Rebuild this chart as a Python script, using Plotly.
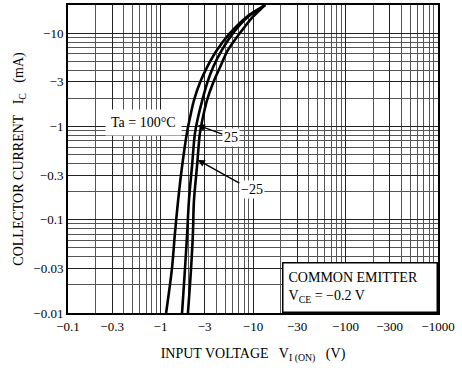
import plotly.graph_objects as go

# Collector current magnitude (mA) and input voltage magnitude (V) for each temperature
ic = [0.01, 0.03, 0.07, 0.16, 0.37, 0.85, 1.26, 1.9, 2.92, 4.3, 6.6, 10, 15, 19, 20]
v_100 = [1.15, 1.33, 1.43, 1.55, 1.71, 1.93, 2.09, 2.30, 2.66, 3.18, 4.08, 5.64, 8.61, 12.5, 13.5]
v_25 = [1.71, 1.84, 1.94, 2.03, 2.19, 2.36, 2.55, 2.83, 3.20, 3.70, 4.62, 6.08, 8.83, 12.5, 13.5]
v_m25 = [1.98, 2.14, 2.24, 2.30, 2.48, 2.67, 2.88, 3.18, 3.70, 4.40, 5.37, 7.23, 10.0, 12.8, 13.5]

x_tickvals = [0.1, 0.3, 1, 3, 10, 30, 100, 300, 1000]
x_ticktext = ["−0.1", "−0.3", "−1", "−3", "−10", "−30", "−100", "−300", "−1000"]
y_tickvals = [0.01, 0.03, 0.1, 0.3, 1, 3, 10]
y_ticktext = ["−0.01", "−0.03", "−0.1", "−0.3", "−1", "−3", "−10"]

x_minor = [m * 10 ** e for e in range(-1, 3) for m in range(1, 10)] + [1000]
y_minor = [m * 10 ** e for e in range(-2, 2) for m in range(1, 10)]
y_minor = [v for v in y_minor if v <= 20]

FONT = "Liberation Serif"

fig = go.Figure()
for v in (v_100, v_25, v_m25):
    fig.add_trace(go.Scatter(x=v, y=ic, mode="lines",
                             line=dict(color="black", width=2.6, shape="spline",
                                       smoothing=1.0),
                             showlegend=False, hoverinfo="skip"))

axis_common = dict(
    type="log", showline=True, mirror=True, linecolor="black", linewidth=2,
    ticks="", showgrid=True, gridcolor="#222", gridwidth=1, zeroline=False,
    automargin=False,
    tickfont=dict(family=FONT, size=13, color="black"),
)

fig.update_xaxes(
    **axis_common, range=[-1, 3], tickmode="array",
    tickvals=x_tickvals, ticktext=x_ticktext,
    minor=dict(tickmode="array", tickvals=x_minor, showgrid=True,
               gridcolor="#555", gridwidth=1, ticks=""),
    title=dict(text="INPUT VOLTAGE   V<sub>I (ON)</sub>   (V)",
               font=dict(family=FONT, size=14, color="black"), standoff=16),
)
fig.update_yaxes(
    **axis_common, range=[-2, 1.30103], tickmode="array",
    tickvals=y_tickvals, ticktext=y_ticktext,
    minor=dict(tickmode="array", tickvals=y_minor, showgrid=True,
               gridcolor="#555", gridwidth=1, ticks=""),
    title=dict(text="COLLECTOR CURRENT   I<sub>C</sub>   (mA)",
               font=dict(family=FONT, size=14, color="black"), standoff=6),
)

ann_font = dict(family=FONT, size=14, color="black")
fig.add_annotation(x=0.203, y=0.62, xref="paper", yref="paper",
                   xanchor="center", yanchor="middle",
                   text="Ta = 100°C", showarrow=False, bgcolor="white",
                   font=ann_font, borderpad=5)
fig.add_annotation(x=0.404, y=0.012, text="25", showarrow=True,
                   ax=33, ay=12, arrowhead=2, arrowsize=1, arrowwidth=1.4,
                   arrowcolor="black", bgcolor="white", font=ann_font)
fig.add_annotation(x=0.404, y=-0.36, text="−25", showarrow=True,
                   ax=54, ay=30, arrowhead=2, arrowsize=1, arrowwidth=1.4,
                   arrowcolor="black", bgcolor="white", font=ann_font)
fig.add_annotation(x=1, y=0, xref="paper", yref="paper", xanchor="right",
                   yanchor="bottom", align="left",
                   text="COMMON EMITTER<br>V<sub>CE</sub> = −0.2 V",
                   showarrow=False, bgcolor="white", bordercolor="black",
                   borderwidth=1.5, borderpad=5, width=143, height=38,
                   font=ann_font)

fig.update_layout(
    width=462, height=373,
    margin=dict(l=68, r=24, t=5, b=60, autoexpand=False),
    paper_bgcolor="white", plot_bgcolor="white",
    font=dict(family=FONT, color="black"),
)

fig.write_html("out.html", config={"displayModeBar": False},
               post_script="document.body.style.margin='0px';"
                           "document.body.style.overflow='hidden';")
